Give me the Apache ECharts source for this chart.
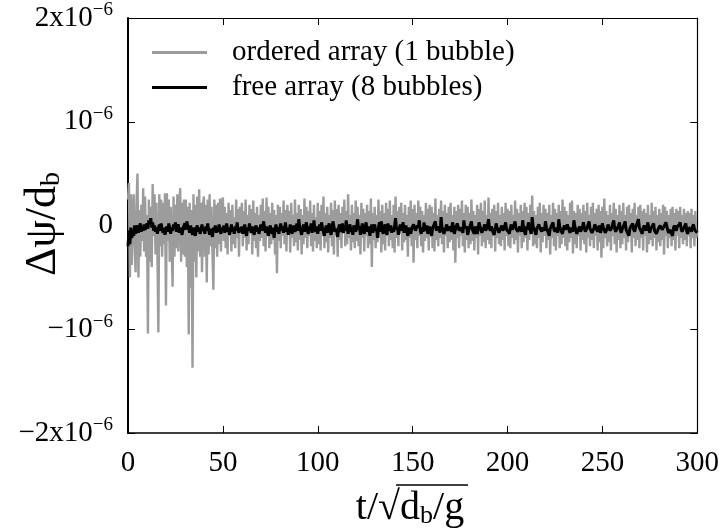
<!DOCTYPE html>
<html><head><meta charset="utf-8">
<script src="https://cdn.jsdelivr.net/npm/echarts@6/dist/echarts.min.js"></script>
<style>html,body{margin:0;padding:0;background:#fff}#c{width:722px;height:532px}</style>
</head><body><div id="c"></div>
<script>
// values in units of 1e-6, two samples per unit of t (t = 0, 0.5, ..., 300)
const tStep = 0.5;
const orderedArray = [
0.25,0.41,-0.50,0.30,-0.38,0.12,0.30,-0.20,-0.45,0.22,0.50,-0.50,0.15,-0.30,0.20,-0.15,0.36,-0.25,0.28,-0.30,
0.10,-1.04,0.25,-0.35,0.18,-0.40,0.40,-0.10,0.30,-0.28,0.22,-0.25,-1.03,0.30,-0.20,0.25,-0.30,0.22,-0.18,0.31,
-0.77,0.31,-0.15,0.25,-0.35,0.18,-0.20,-0.59,0.28,-0.30,0.20,-0.22,0.30,-0.25,0.15,0.36,-0.35,0.22,-0.28,0.25,
-0.30,0.25,-0.40,0.18,-1.05,0.22,-0.60,0.15,-1.37,0.30,-0.35,0.20,-0.50,0.28,-0.25,0.35,-0.30,0.22,-0.45,0.20,
0.28,-0.30,0.20,-0.55,0.25,-0.28,0.30,-0.20,0.18,-0.25,-0.62,0.25,-0.22,0.20,-0.30,0.22,-0.18,0.26,-0.25,0.20,
0.27,-0.15,0.18,-0.22,0.12,-0.28,0.22,-0.10,0.15,-0.25,0.20,-0.18,0.08,-0.22,0.25,-0.12,0.16,-0.30,0.18,-0.08,
0.22,-0.20,0.14,-0.12,0.25,-0.24,0.10,-0.18,0.20,-0.05,0.16,-0.28,0.24,-0.15,0.12,-0.22,0.18,-0.30,0.10,-0.15,
0.20,-0.12,0.26,-0.20,0.14,-0.25,0.27,-0.10,0.18,-0.22,0.12,-0.18,0.22,-0.14,0.15,-0.28,0.10,-0.46,0.20,-0.15,
0.18,-0.22,0.12,-0.10,0.24,-0.18,0.15,-0.25,0.20,-0.08,0.14,-0.26,0.22,-0.12,0.10,-0.20,0.25,-0.16,0.12,-0.24,
0.20,-0.14,0.16,-0.28,0.10,-0.18,0.26,-0.12,0.18,-0.22,0.14,-0.10,0.24,-0.20,0.12,-0.25,0.20,-0.15,0.08,-0.22,
0.22,-0.18,0.14,-0.24,0.20,-0.10,0.28,-0.22,0.12,-0.16,0.18,-0.26,0.10,-0.12,0.22,-0.20,0.15,-0.28,0.24,-0.10,
0.16,-0.30,0.20,-0.14,0.12,-0.22,0.18,-0.08,0.25,-0.20,0.14,-0.18,0.30,-0.12,0.10,-0.24,0.20,-0.16,0.12,-0.22,
0.24,-0.15,0.18,-0.20,0.10,-0.28,0.22,-0.12,0.16,-0.25,0.12,-0.10,0.20,-0.22,0.14,-0.18,0.26,-0.40,0.12,-0.14,
0.18,-0.22,0.10,-0.16,0.25,-0.12,0.14,-0.26,0.20,-0.18,0.12,-0.24,0.22,-0.10,0.16,-0.20,0.24,-0.14,0.10,-0.22,
0.20,-0.26,0.28,-0.12,0.14,-0.20,0.18,-0.08,0.22,-0.24,0.12,-0.16,0.20,-0.14,0.10,-0.30,0.18,-0.12,0.24,-0.20,
0.16,-0.36,0.20,-0.14,0.12,-0.22,0.24,-0.10,0.18,-0.20,0.14,-0.26,0.10,-0.15,0.22,-0.12,0.16,-0.24,0.20,-0.10,
0.18,-0.22,0.12,-0.25,0.26,-0.14,0.10,-0.20,0.16,-0.12,0.24,-0.18,0.14,-0.26,0.20,-0.10,0.12,-0.22,0.18,-0.16,
0.22,-0.14,0.10,-0.24,0.18,-0.36,0.14,-0.12,0.20,-0.22,0.16,-0.10,0.24,-0.20,0.12,-0.26,0.20,-0.14,0.18,-0.22,
0.12,-0.18,0.25,-0.15,0.14,-0.24,0.10,-0.12,0.20,-0.28,0.16,-0.10,0.22,-0.20,0.14,-0.16,0.24,-0.22,0.10,-0.14,
0.27,-0.18,0.12,-0.22,0.16,-0.10,0.20,-0.25,0.14,-0.12,0.22,-0.18,0.10,-0.20,0.18,-0.14,0.12,-0.24,0.22,-0.10,
0.16,-0.20,0.14,-0.22,0.20,-0.12,0.10,-0.18,0.24,-0.14,0.16,-0.26,0.12,-0.10,0.20,-0.22,0.14,-0.16,0.22,-0.12,
0.18,-0.24,0.12,-0.14,0.20,-0.08,0.29,-0.20,0.14,-0.18,0.10,-0.22,0.18,-0.12,0.22,-0.26,0.12,-0.16,0.20,-0.10,
0.16,-0.22,0.12,-0.14,0.20,-0.28,0.10,-0.12,0.22,-0.20,0.16,-0.24,0.12,-0.10,0.20,-0.22,0.14,-0.18,0.25,-0.12,
0.18,-0.20,0.14,-0.24,0.10,-0.16,0.22,-0.12,0.24,-0.27,0.14,-0.18,0.12,-0.22,0.20,-0.10,0.16,-0.24,0.12,-0.14,
0.20,-0.18,0.14,-0.26,0.22,-0.12,0.10,-0.20,0.18,-0.14,0.22,-0.22,0.12,-0.10,0.16,-0.24,0.20,-0.16,0.14,-0.31,
0.18,-0.22,0.26,-0.12,0.14,-0.20,0.10,-0.16,0.20,-0.24,0.12,-0.10,0.22,-0.18,0.16,-0.26,0.10,-0.14,0.20,-0.22,
0.14,-0.18,0.22,-0.12,0.10,-0.24,0.18,-0.16,0.20,-0.08,0.12,-0.26,0.16,-0.12,0.22,-0.20,0.10,-0.14,0.18,-0.22,
0.20,-0.12,0.14,-0.24,0.16,-0.10,0.12,-0.26,0.20,-0.18,0.10,-0.14,0.22,-0.20,0.14,-0.12,0.18,-0.24,0.10,-0.16,
0.16,-0.20,0.12,-0.14,0.20,-0.28,0.18,-0.10,0.14,-0.22,0.10,-0.12,0.16,-0.20,0.18,-0.14,0.12,-0.24,0.16,-0.10,
0.14,-0.22,0.18,-0.12,0.10,-0.18,0.16,-0.14,0.12,-0.20,0.14,-0.10,0.12,-0.22,0.16,-0.12,0.10,-0.20,0.14,-0.12,
-0.05
];
const freeArray = [
-0.20,-0.05,-0.18,-0.02,-0.12,-0.06,-0.10,0.00,-0.08,-0.03,0.00,-0.07,-0.02,0.02,-0.06,-0.01,-0.05,0.01,-0.04,-0.02,
0.02,-0.03,0.05,0.01,0.07,-0.02,0.03,-0.05,0.00,-0.06,-0.02,-0.08,-0.03,0.01,-0.05,0.02,-0.04,-0.07,-0.02,-0.09,
-0.04,-0.01,-0.06,0.02,-0.03,-0.08,-0.02,-0.05,0.01,-0.03,0.03,-0.06,-0.01,0.01,-0.07,-0.02,-0.05,-0.09,-0.03,0.00,
0.02,-0.04,0.04,-0.01,-0.03,-0.07,0.00,-0.05,-0.09,-0.02,-0.06,-0.10,-0.03,0.00,-0.06,-0.02,-0.08,-0.04,0.01,-0.05,
-0.03,-0.08,-0.01,-0.05,0.02,-0.04,-0.09,-0.03,-0.06,-0.11,-0.02,-0.05,0.00,-0.07,-0.03,-0.06,0.01,-0.04,-0.08,-0.02,
-0.05,0.00,-0.07,-0.03,0.02,-0.06,-0.02,-0.09,-0.04,0.01,-0.06,-0.03,-0.08,-0.01,-0.05,0.03,-0.04,-0.07,-0.02,-0.06,
-0.01,-0.08,-0.03,0.01,-0.06,-0.10,-0.02,-0.05,0.02,-0.04,-0.07,-0.01,-0.05,-0.09,-0.03,0.00,-0.06,-0.02,-0.08,-0.04,
0.01,-0.05,-0.02,0.04,-0.03,-0.07,-0.01,-0.06,-0.10,-0.03,0.00,-0.05,-0.08,-0.02,-0.12,-0.04,0.01,-0.06,-0.02,-0.08,
-0.03,0.02,-0.05,-0.01,-0.07,-0.03,0.03,-0.06,-0.02,-0.09,-0.04,0.01,-0.05,-0.08,-0.02,0.00,-0.06,-0.03,0.02,-0.05,
0.06,-0.02,-0.05,-0.09,-0.03,0.01,-0.06,-0.02,0.03,-0.04,-0.08,-0.01,-0.05,0.02,-0.07,-0.03,0.05,-0.04,-0.06,-0.01,
-0.08,-0.03,0.01,-0.05,0.03,-0.02,-0.06,-0.10,-0.04,0.00,-0.07,-0.02,0.02,-0.05,-0.09,-0.03,0.04,-0.01,-0.06,-0.03,
-0.05,-0.11,-0.02,0.01,-0.06,-0.03,0.02,-0.07,-0.01,-0.05,0.05,-0.03,-0.08,-0.02,0.01,-0.06,-0.04,-0.09,0.00,-0.03,
-0.06,-0.02,0.06,-0.04,-0.01,-0.09,-0.03,0.02,-0.05,-0.08,-0.02,0.03,-0.06,-0.01,-0.04,-0.10,-0.03,0.01,-0.07,-0.02,
0.01,-0.05,-0.03,-0.12,-0.02,0.03,-0.06,0.04,-0.04,-0.08,-0.02,0.01,-0.06,-0.09,0.02,-0.03,-0.05,0.00,-0.07,-0.03,
-0.06,0.00,0.07,-0.04,-0.02,-0.09,-0.03,0.01,-0.05,-0.02,0.03,-0.07,-0.03,0.00,-0.06,-0.10,-0.02,-0.05,-0.08,-0.03,
-0.03,0.01,0.02,-0.05,-0.06,0.00,-0.02,0.05,-0.04,-0.08,-0.02,-0.06,0.03,-0.03,-0.05,0.00,-0.08,-0.04,-0.01,-0.06,
-0.10,-0.03,-0.02,0.02,0.04,-0.05,-0.06,-0.01,-0.03,-0.07,0.08,-0.02,-0.04,-0.08,-0.07,-0.02,0.01,-0.05,-0.05,-0.01,
-0.02,-0.06,0.03,-0.01,-0.08,-0.04,-0.03,0.02,0.02,-0.05,-0.06,-0.02,-0.01,-0.07,0.05,-0.03,-0.04,-0.01,-0.09,-0.05,
-0.02,0.01,0.04,-0.04,-0.05,-0.08,-0.01,-0.03,-0.08,-0.04,0.03,-0.01,-0.04,-0.07,-0.06,-0.02,0.01,-0.05,-0.03,0.00,
0.06,-0.03,-0.05,-0.01,-0.02,-0.07,-0.09,-0.04,0.02,-0.02,-0.04,-0.07,-0.07,-0.02,0.00,-0.05,-0.05,-0.01,0.03,-0.04,
-0.03,-0.06,-0.08,-0.02,0.01,-0.04,-0.05,0.01,0.04,-0.03,-0.02,-0.06,-0.07,-0.01,-0.03,-0.06,0.05,-0.02,-0.06,-0.09,
-0.01,-0.04,0.03,-0.02,-0.05,-0.08,0.08,-0.01,-0.03,-0.06,-0.09,-0.03,-0.02,0.01,0.02,-0.04,-0.06,-0.02,-0.01,-0.05,
0.04,-0.02,-0.05,-0.07,-0.10,-0.03,-0.02,0.01,0.03,-0.04,-0.06,-0.02,-0.03,-0.07,0.06,-0.01,-0.04,-0.06,-0.08,-0.03,
0.00,-0.04,-0.05,0.01,0.02,-0.05,-0.07,-0.02,-0.02,-0.06,0.05,-0.01,-0.04,-0.08,-0.09,-0.03,-0.01,-0.06,-0.05,-0.02,
0.03,-0.02,-0.06,-0.04,-0.02,0.01,0.04,-0.03,-0.05,-0.07,-0.08,-0.03,0.01,-0.01,-0.04,-0.06,-0.02,0.00,-0.07,-0.04,
0.02,-0.02,-0.04,-0.07,-0.08,-0.03,0.01,-0.02,-0.05,-0.06,-0.02,0.02,0.05,-0.03,-0.06,-0.04,-0.03,0.00,0.03,-0.05,
-0.07,-0.03,-0.02,0.01,0.04,-0.04,-0.05,-0.08,-0.10,-0.03,-0.01,0.00,0.02,-0.04,-0.06,-0.02,-0.03,0.03,0.06,-0.02,
-0.04,-0.06,-0.08,-0.03,0.00,-0.02,-0.05,-0.01,0.03,-0.04,-0.07,-0.03,-0.02,0.00,0.02,-0.05,-0.06,-0.08,-0.09,-0.03,
-0.03,0.00,0.01,-0.04,-0.05,-0.01,-0.02,0.03,0.04,-0.05,-0.07,-0.04,-0.03,-0.08,-0.10,-0.02,0.00,-0.03,-0.05,-0.01,
-0.02,0.01,0.03,-0.03,-0.06,-0.04,-0.04,0.00,0.02,-0.06,-0.08,-0.02,-0.03,-0.04,-0.06,-0.01,0.01,-0.03,-0.05,-0.04,
-0.07
];
const seriesNames = ['ordered array (1 bubble)', 'free array (8 bubbles)'];
const xTicks = [0, 50, 100, 150, 200, 250, 300];
const yTicks = [-2, -1, 0, 1, 2];
const yTickLabels = {'-2': '−2x10{sup|−6}', '-1': '−10{sup|−6}', '0': '0', '1': '10{sup|−6}', '2': '2x10{sup|−6}'};

const FONT = '"Liberation Serif", "DejaVu Serif", serif';
const chart = echarts.init(document.getElementById('c'));
const toPairs = arr => arr.map((v, i) => [i * tStep, v]);

const tickStyle = {show: true, inside: true, length: 7, lineStyle: {color: '#000', width: 1}};

chart.setOption({
  backgroundColor: '#fff',
  animation: false,
  grid: {left: 128, right: 23, top: 18, bottom: 99, containLabel: false},
  legend: {
    orient: 'vertical', left: 152, top: 38, itemGap: 6, padding: 0,
    icon: 'rect', itemWidth: 55, itemHeight: 3,
    textStyle: {fontFamily: FONT, fontSize: 29, color: '#000', padding: [0, 0, 0, 20]},
    data: seriesNames
  },
  xAxis: [
    {type: 'value', min: 0, max: 300, interval: 50, position: 'bottom',
      axisLine: {onZero: false, lineStyle: {color: '#000', width: 1.5}},
      axisTick: tickStyle, splitLine: {show: false},
      axisLabel: {fontFamily: FONT, fontSize: 29, color: '#000', margin: 16,
        formatter: v => xTicks.indexOf(v) >= 0 ? String(v) : ''}},
    {type: 'value', min: 0, max: 300, interval: 50, position: 'top',
      axisLine: {show: true, onZero: false, lineStyle: {color: '#000', width: 1.2}},
      axisTick: tickStyle, splitLine: {show: false}, axisLabel: {show: false}}
  ],
  yAxis: [
    {type: 'value', min: -2, max: 2, interval: 1, position: 'left',
      axisLine: {show: true, onZero: false, lineStyle: {color: '#000', width: 2}},
      axisTick: tickStyle, splitLine: {show: false},
      axisLabel: {fontFamily: FONT, fontSize: 29, color: '#000', margin: 15,
        formatter: v => yTickLabels[String(v)] || '',
        rich: {sup: {fontFamily: FONT, fontSize: 19, color: '#000', padding: [0, 0, 15, 0]}}}},
    {type: 'value', min: -2, max: 2, interval: 1, position: 'right',
      axisLine: {show: true, onZero: false, lineStyle: {color: '#000', width: 1.2}},
      axisTick: tickStyle, splitLine: {show: false}, axisLabel: {show: false}}
  ],
  series: [
    {name: seriesNames[0], type: 'line', data: toPairs(orderedArray), showSymbol: false,
     lineStyle: {color: '#9c9c9c', width: 2.4}, itemStyle: {color: '#9c9c9c'}, z: 2, clip: true},
    {name: seriesNames[1], type: 'line', data: toPairs(freeArray), showSymbol: false,
     lineStyle: {color: '#000', width: 3}, itemStyle: {color: '#000'}, z: 3, clip: true}
  ],
  graphic: [
    {type: 'text', x: 410, y: 508, style: {
      text: 't/√d{sub|b}/g', fontFamily: FONT, fontSize: 40, fill: '#000', align: 'center', verticalAlign: 'middle',
      rich: {sub: {fontFamily: FONT, fontSize: 26, fill: '#000', padding: [16, 0, 0, 0]}}
    }},
    {type: 'line', shape: {x1: 396, y1: 485, x2: 468, y2: 485}, style: {stroke: '#000', lineWidth: 1.5}},
    {type: 'text', x: 43, y: 224, rotation: Math.PI / 2, style: {
      text: 'Δψ/d{sub|b}', fontFamily: FONT, fontSize: 44, fill: '#000', align: 'center', verticalAlign: 'middle',
      rich: {sub: {fontFamily: FONT, fontSize: 28, fill: '#000', padding: [18, 0, 0, 0]}}
    }}
  ]
});
</script></body></html>
